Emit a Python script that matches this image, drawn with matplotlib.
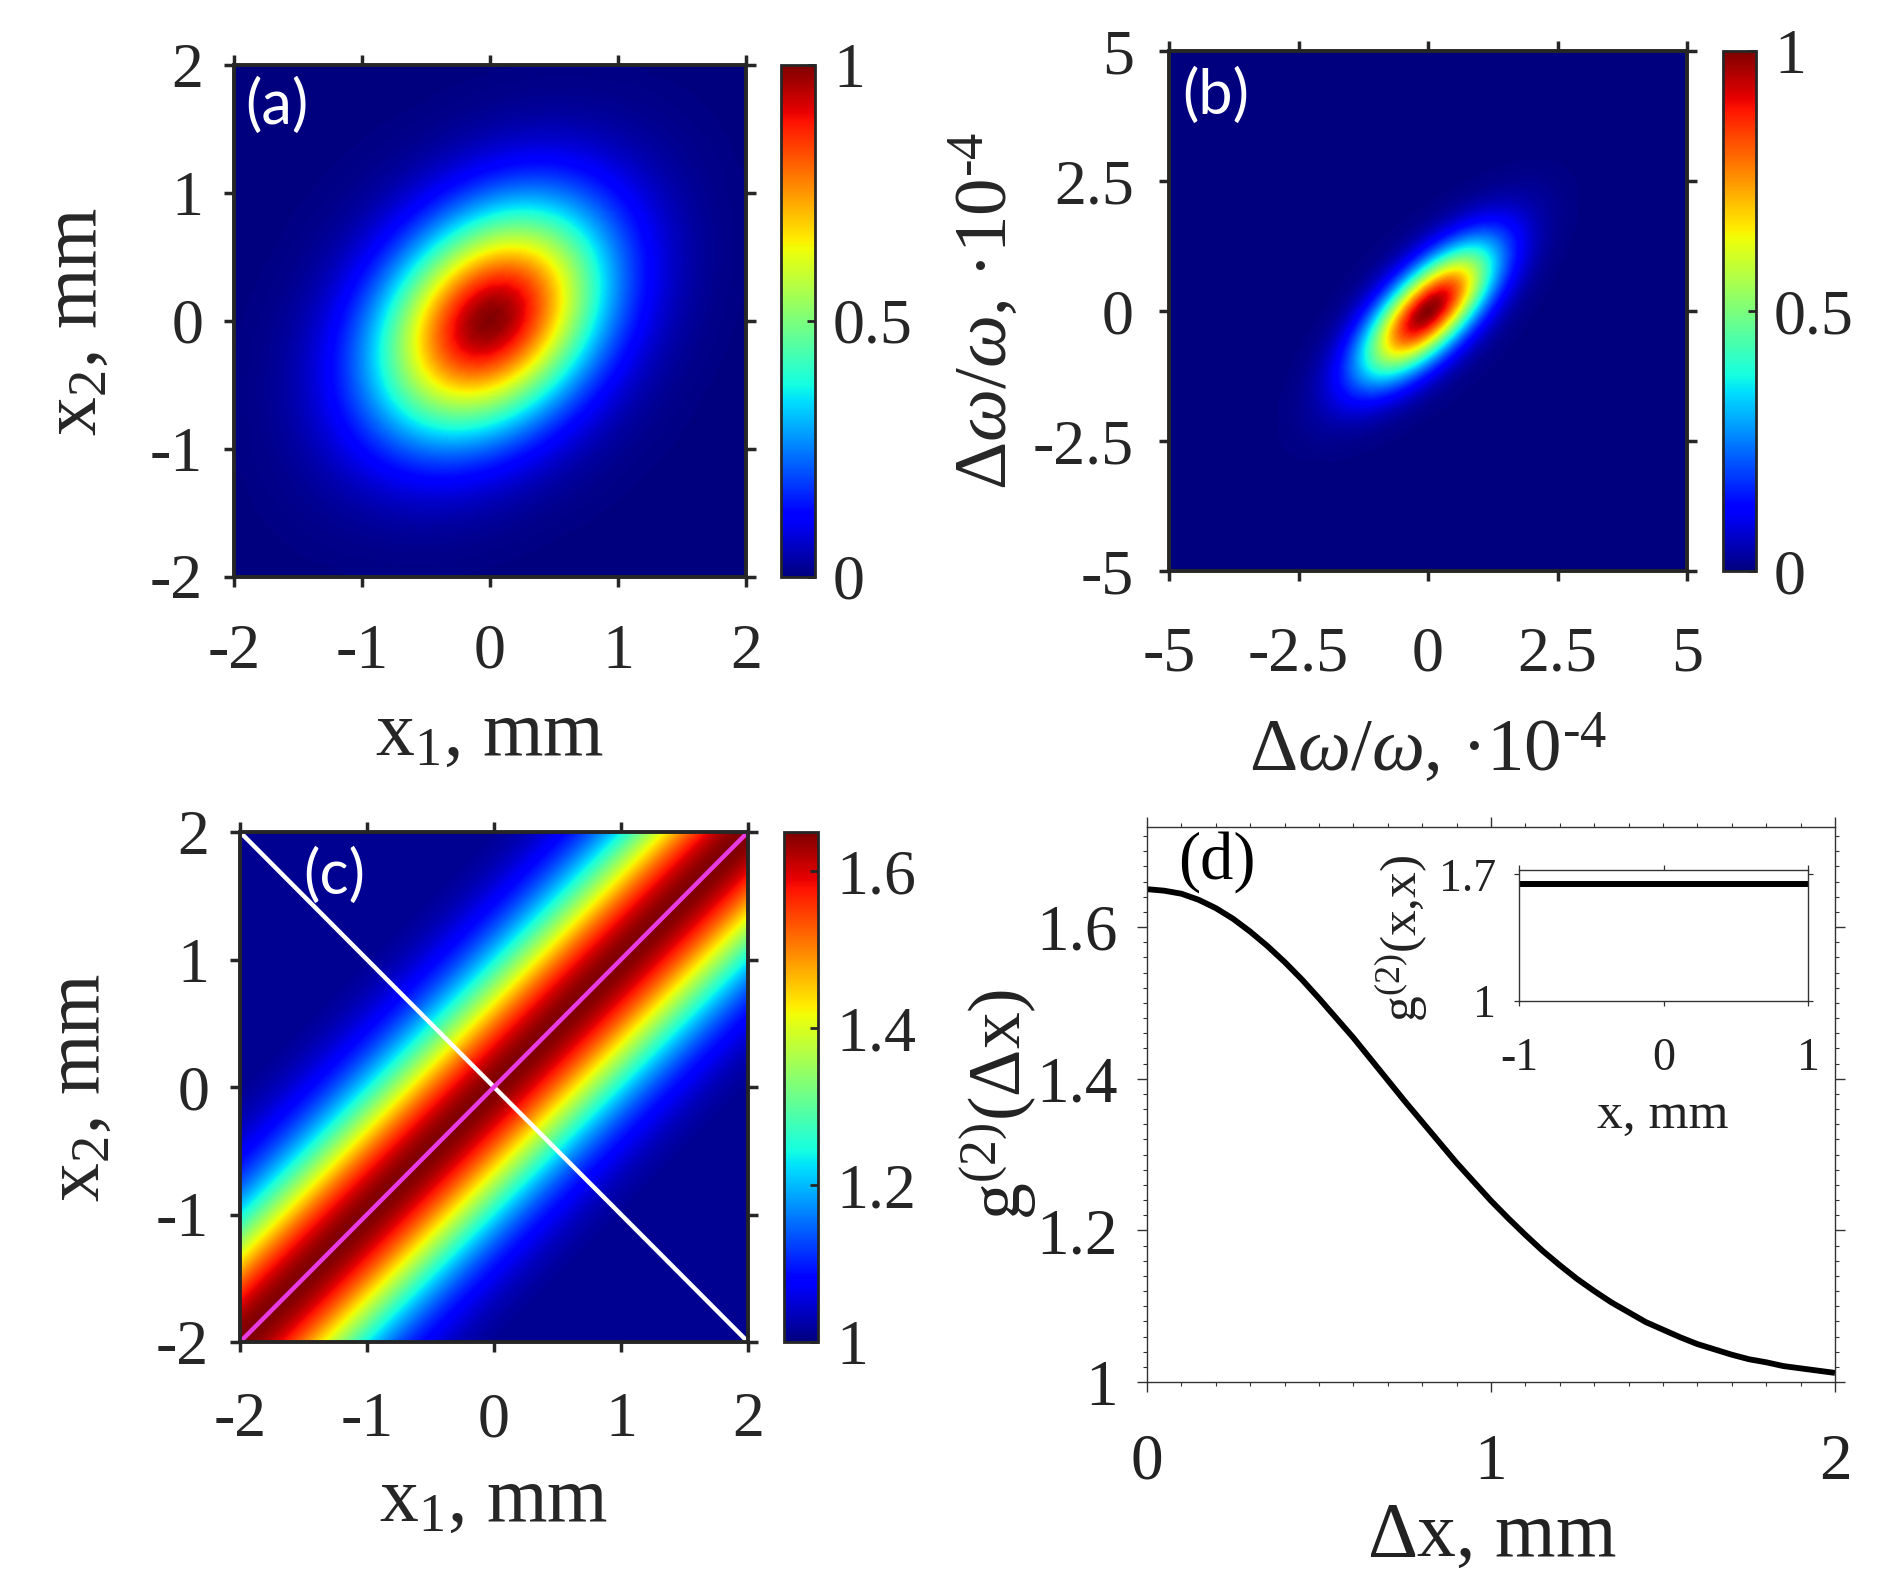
import numpy as np
import matplotlib
matplotlib.use('Agg')
import matplotlib.pyplot as plt
from matplotlib.ticker import MultipleLocator

plt.rcParams['font.family'] = ['Liberation Serif', 'DejaVu Serif']
plt.rcParams['mathtext.fontset'] = 'custom'
plt.rcParams['mathtext.rm'] = 'Liberation Serif'
plt.rcParams['mathtext.it'] = 'Liberation Serif:italic'
plt.rcParams['mathtext.bf'] = 'Liberation Serif:bold'

# ---------------- data ----------------
# (a) spatial map: profiles along the principal axes (mm), tilt of major axis
a_angle_deg = 45.0
a_r_major = [0.0, 0.1, 0.2, 0.3, 0.4, 0.5, 0.6, 0.7, 0.8, 0.9, 1.0, 1.1, 1.2, 1.3,
             1.4, 1.5, 1.6, 1.7, 1.8, 1.9, 2.0, 2.25, 2.5, 3.0]
a_major = [1.000, 0.990, 0.960, 0.912, 0.849, 0.774, 0.691, 0.605, 0.519, 0.436,
           0.359, 0.289, 0.229, 0.177, 0.134, 0.100, 0.073, 0.052, 0.036, 0.025,
           0.017, 0.006, 0.002, 0.000]
a_r_minor = [0.0, 0.1, 0.2, 0.3, 0.4, 0.5, 0.6, 0.7, 0.8, 0.9, 1.0, 1.1, 1.2, 1.3,
             1.4, 1.5, 1.6, 1.8, 2.0]
a_minor = [1.000, 0.981, 0.925, 0.839, 0.733, 0.615, 0.496, 0.385, 0.288, 0.207,
           0.143, 0.095, 0.061, 0.037, 0.022, 0.013, 0.007, 0.002, 0.000]

# (b) spectral map (units 1e-4)
b_angle_deg = 45.0
b_r_major = [0.0, 0.25, 0.5, 0.75, 1.0, 1.25, 1.5, 1.75, 2.0, 2.25, 2.5, 2.75, 3.0,
             3.5, 4.0, 5.0]
b_major = [1.000, 0.975, 0.905, 0.799, 0.671, 0.536, 0.408, 0.295, 0.203, 0.133,
           0.083, 0.049, 0.028, 0.008, 0.002, 0.000]
b_r_minor = [0.0, 0.1, 0.2, 0.3, 0.4, 0.5, 0.6, 0.7, 0.8, 0.9, 1.0, 1.1, 1.2, 1.3,
             1.4, 1.5, 1.7, 2.0]
b_minor = [1.000, 0.979, 0.917, 0.823, 0.707, 0.581, 0.458, 0.345, 0.249, 0.172,
           0.114, 0.072, 0.044, 0.026, 0.014, 0.008, 0.002, 0.000]

# (d) g2 versus separation (also fills map (c) as a function of |x1 - x2|)
d_dx = [0.00, 0.05, 0.10, 0.15, 0.20, 0.25, 0.30, 0.35, 0.40, 0.45, 0.50, 0.55,
        0.60, 0.65, 0.70, 0.75, 0.80, 0.85, 0.90, 0.95, 1.00, 1.05, 1.10, 1.15,
        1.20, 1.25, 1.30, 1.35, 1.40, 1.45, 1.50, 1.55, 1.60, 1.65, 1.70, 1.75,
        1.80, 1.85, 1.90, 1.95, 2.00]
d_g2 = [1.650, 1.648, 1.644, 1.636, 1.625, 1.611, 1.594, 1.575, 1.554, 1.531,
        1.506, 1.480, 1.454, 1.426, 1.398, 1.370, 1.343, 1.316, 1.289, 1.264,
        1.239, 1.216, 1.194, 1.173, 1.154, 1.136, 1.120, 1.105, 1.092, 1.079,
        1.069, 1.059, 1.050, 1.043, 1.036, 1.030, 1.026, 1.021, 1.018, 1.015,
        1.012]

# (c) guide lines
c_white_x = [-2, 2]
c_white_y = [2, -2]
c_mag_x = [-2, 2]
c_mag_y = [-2, 2]

# inset of (d)
in_x = [-1, 1]
in_g2 = [1.645, 1.645]

ab_ticks = [-2, -1, 0, 1, 2]
ab_ticklabels = ['-2', '-1', '0', '1', '2']
b_ticks = [-5, -2.5, 0, 2.5, 5]
b_ticklabels = ['-5', '-2.5', '0', '2.5', '5']
cb01_ticks = [0, 0.5, 1]
cb01_labels = ['0', '0.5', '1']
cbc_ticks = [1, 1.2, 1.4, 1.6]
cbc_labels = ['1', '1.2', '1.4', '1.6']
d_xticks = [0, 1, 2]
d_xlabels = ['0', '1', '2']
d_yticks = [1, 1.2, 1.4, 1.6]
d_ylabels = ['1', '1.2', '1.4', '1.6']
in_xticks = [-1, 0, 1]
in_xlabels = ['-1', '0', '1']
in_yticks = [1, 1.7]
in_ylabels = ['1', '1.7']

# ---------------- figure ----------------
W, H = 1879, 1582
fig = plt.figure(figsize=(W / 100, H / 100), dpi=100)
GRAY = '#262626'


def ax_px(l, t, r, b):
    return fig.add_axes([l / W, 1 - b / H, (r - l) / W, (b - t) / H])


def rotated_field(lim, n, ang, rM, pM, rm, pm):
    g = np.linspace(-lim, lim, n)
    X1, X2 = np.meshgrid(g, g)
    th = np.deg2rad(ang)
    U = X1 * np.cos(th) + X2 * np.sin(th)
    V = -X1 * np.sin(th) + X2 * np.cos(th)
    return np.interp(np.abs(U), rM, pM) * np.interp(np.abs(V), rm, pm)


def style_map(ax, ticks, labels):
    ax.set_xticks(ticks)
    ax.set_xticklabels(labels)
    ax.set_yticks(ticks)
    ax.set_yticklabels(labels)
    ax.tick_params(direction='out', length=7.2, width=2.5, top=True, right=True,
                   color=GRAY, labelcolor=GRAY, labelsize=46)
    ax.tick_params(axis='x', pad=27)
    ax.tick_params(axis='y', pad=15)
    for s in ax.spines.values():
        s.set_linewidth(2.8)
        s.set_color(GRAY)


def style_cbar(cb, ticks, labels):
    cb.set_ticks(ticks)
    cb.set_ticklabels(labels)
    cb.outline.set_linewidth(2.0)
    cb.outline.set_edgecolor(GRAY)
    cb.ax.tick_params(direction='in', length=6, width=2, color=GRAY,
                      labelcolor=GRAY, labelsize=46, pad=13)


# (a)
ax_a = ax_px(234, 65, 746, 576.5)
fa = rotated_field(2, 401, a_angle_deg, a_r_major, a_major, a_r_minor, a_minor)
im_a = ax_a.imshow(fa, extent=[-2, 2, -2, 2], origin='lower', cmap='jet',
                   vmin=0, vmax=1, aspect='auto', interpolation='bilinear')
ax_a.set_xlim(-2, 2)
ax_a.set_ylim(-2, 2)
style_map(ax_a, ab_ticks, ab_ticklabels)
cax_a = ax_px(781, 65, 815, 576.5)
style_cbar(fig.colorbar(im_a, cax=cax_a), cb01_ticks, cb01_labels)

# (b)
ax_b = ax_px(1169, 51, 1687, 571)
fb = rotated_field(5, 501, b_angle_deg, b_r_major, b_major, b_r_minor, b_minor)
im_b = ax_b.imshow(fb, extent=[-5, 5, -5, 5], origin='lower', cmap='jet',
                   vmin=0, vmax=1, aspect='auto', interpolation='bilinear')
ax_b.set_xlim(-5, 5)
ax_b.set_ylim(-5, 5)
style_map(ax_b, b_ticks, b_ticklabels)
ax_b.tick_params(axis='x', pad=33)
ax_b.tick_params(axis='y', pad=18)
cax_b = ax_px(1723, 51, 1756, 571)
style_cbar(fig.colorbar(im_b, cax=cax_b), cb01_ticks, cb01_labels)

# (c)
ax_c = ax_px(240, 832, 748, 1342)
gc = np.linspace(-2, 2, 401)
C1, C2 = np.meshgrid(gc, gc)
fc = np.interp(np.abs(C1 - C2), d_dx, d_g2)
im_c = ax_c.imshow(fc, extent=[-2, 2, -2, 2], origin='lower', cmap='jet',
                   vmin=1, vmax=1.65, aspect='auto', interpolation='bilinear')
ax_c.plot(c_white_x, c_white_y, color='white', lw=3.2, solid_capstyle='butt')
ax_c.plot(c_mag_x, c_mag_y, color='#e83ce2', lw=3.2, solid_capstyle='butt')
ax_c.set_xlim(-2, 2)
ax_c.set_ylim(-2, 2)
style_map(ax_c, ab_ticks, ab_ticklabels)
ax_c.tick_params(axis='x', pad=29)
cax_c = ax_px(784, 832, 818, 1342)
style_cbar(fig.colorbar(im_c, cax=cax_c), cbc_ticks, cbc_labels)

# (d)
ax_d = ax_px(1147, 827, 1835, 1382)
ax_d.plot(d_dx, d_g2, color='black', lw=4.2, solid_capstyle='butt',
          solid_joinstyle='round')
ax_d.set_xlim(0, 2)
ax_d.set_ylim(1, 1.732)
ax_d.set_xticks(d_xticks)
ax_d.set_xticklabels(d_xlabels)
ax_d.set_yticks(d_yticks)
ax_d.set_yticklabels(d_ylabels)
ax_d.xaxis.set_minor_locator(MultipleLocator(0.1))
ax_d.yaxis.set_minor_locator(MultipleLocator(0.02))
ax_d.tick_params(which='major', direction='out', length=7, width=1.0, top=True,
                 right=True, color='#333333', labelcolor='#222222', labelsize=47)
ax_d.tick_params(which='minor', direction='out', length=3, width=0.8, top=True,
                 right=True, color='#333333')
ax_d.tick_params(axis='x', which='major', pad=30)
ax_d.tick_params(axis='y', which='major', pad=14)
for s in ax_d.spines.values():
    s.set_linewidth(1.0)
    s.set_color('#333333')

# inset
ax_i = ax_px(1519, 870, 1808, 1000.5)
ax_i.plot(in_x, in_g2, color='black', lw=4.3, solid_capstyle='butt')
ax_i.set_xlim(-1, 1)
ax_i.set_ylim(1, 1.724)
ax_i.set_xticks(in_xticks)
ax_i.set_xticklabels(in_xlabels)
ax_i.set_yticks(in_yticks)
ax_i.set_yticklabels(in_ylabels)
ax_i.tick_params(direction='out', length=3.5, width=0.9, top=True, right=True,
                 color='#333333', labelcolor='#222222', labelsize=33)
ax_i.tick_params(axis='x', pad=23)
ax_i.tick_params(axis='y', pad=13)
for s in ax_i.spines.values():
    s.set_linewidth(1.0)
    s.set_color('#333333')

# ---------------- labels ----------------
TXT = '#262626'
lab_x1 = r'x$_1$, mm'
lab_x2 = r'x$_2$, mm'
lab_w = r'$\Delta\omega/\omega$, ·10$^{\text{-}4}$'

fig.text(490 / W, 1 - 755 / H, lab_x1, ha='center', va='baseline', fontsize=56, color=TXT)
fig.text(494 / W, 1 - 1521 / H, lab_x1, ha='center', va='baseline', fontsize=56, color=TXT)
fig.text(1428 / W, 1 - 770 / H, lab_w, ha='center', va='baseline', fontsize=54, color=TXT)
fig.text(1492 / W, 1 - 1556 / H, r'$\Delta$x, mm', ha='center', va='baseline',
         fontsize=56, color='#222222')
fig.text(1663 / W, 1 - 1128 / H, 'x, mm', ha='center', va='baseline', fontsize=37,
         color='#222222')

fig.text(96 / W, 1 - 321 / H, lab_x2, rotation=90, rotation_mode='anchor',
         ha='center', va='baseline', fontsize=56, color=TXT)
fig.text(99 / W, 1 - 1087 / H, lab_x2, rotation=90, rotation_mode='anchor',
         ha='center', va='baseline', fontsize=56, color=TXT)
fig.text(1006 / W, 1 - 311 / H, lab_w, rotation=90, rotation_mode='anchor',
         ha='center', va='baseline', fontsize=54, color=TXT)
fig.text(1022 / W, 1 - 1104 / H, r'g$^{(2)}$($\Delta$x)', rotation=90,
         rotation_mode='anchor', ha='center', va='baseline', fontsize=53,
         color='#222222')
fig.text(1417 / W, 1 - 938 / H, r'g$^{(2)}$(x,x)', rotation=90,
         rotation_mode='anchor', ha='center', va='baseline', fontsize=37,
         color='#222222')

# panel tags
fig.text(245 / W, 1 - 78 / H, '(a)', color='white', fontsize=44, family='Lato',
         ha='left', va='top')
fig.text(1182 / W, 1 - 68 / H, '(b)', color='white', fontsize=44, family='Lato',
         ha='left', va='top')
fig.text(303 / W, 1 - 848 / H, '(c)', color='white', fontsize=44, family='Lato',
         ha='left', va='top')
fig.text(1178 / W, 1 - 831 / H, '(d)', color='black', fontsize=48, ha='left', va='top')

fig.savefig('out.png', dpi=100)
